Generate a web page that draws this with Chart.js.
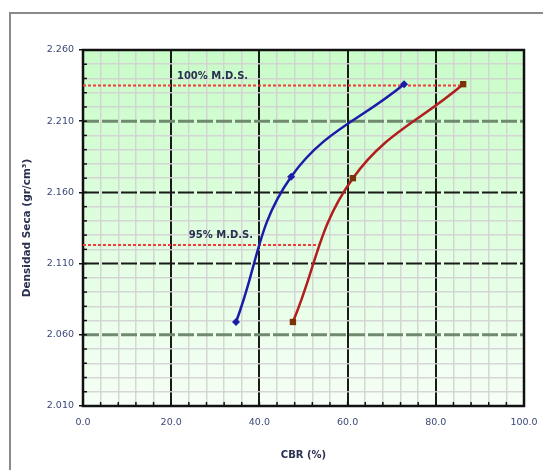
<!DOCTYPE html>
<html><head><meta charset="utf-8">
<script src="https://cdn.jsdelivr.net/npm/chart.js@4"></script>
<style>html,body{margin:0;padding:0;background:#fff}#wrap{width:543px;height:470px;position:relative}</style>
</head><body><div id="wrap"><canvas id="c" width="543" height="470"></canvas></div>
<script>
// ---- data ----
const cbrBlue = [34.7, 47.2, 72.8];
const densBlue = [2.069, 2.171, 2.236];
const cbrRed = [47.6, 61.2, 86.2];
const densRed = [2.069, 2.170, 2.236];
const mdsLevels = [2.235, 2.123];
const mdsLineEnds = [86.2, 53.5];
const mdsLabels = ['100% M.D.S.', '95% M.D.S.'];
const mdsLabelX = [21.3, 24.0];
const mdsLabelY = [2.2395, 2.128];
const yLabelTicks = [2.010, 2.060, 2.110, 2.160, 2.210, 2.260];
const yGreyMajor = [2.210, 2.060];
const yBlackMajor = [2.160, 2.110];
const xLabelTicks = [0, 20, 40, 60, 80, 100];

const isMajorY = v => yLabelTicks.some(t => Math.abs(t - v) < 1e-6);
const isMajorX = v => xLabelTicks.some(t => Math.abs(t - v) < 1e-6);

const pts = (xs, ys) => xs.map((x, i) => ({x, y: ys[i]}));
const FONT = '"DejaVu Sans", "Liberation Sans", sans-serif';

const decor = {
  id: 'decor',
  beforeDraw(chart) {
    const {ctx, chartArea: a} = chart;
    ctx.save();
    ctx.fillStyle = '#fff';
    ctx.fillRect(0, 0, chart.width, chart.height);
    ctx.strokeStyle = '#8a8a8a';
    ctx.lineWidth = 2;
    ctx.beginPath();
    ctx.moveTo(10, chart.height);
    ctx.lineTo(10, 13);
    ctx.lineTo(chart.width + 2, 13);
    ctx.stroke();
    const g = ctx.createLinearGradient(0, a.top, 0, a.bottom);
    g.addColorStop(0, '#c8fcc8');
    g.addColorStop(1, '#f6fff6');
    ctx.fillStyle = g;
    ctx.fillRect(a.left, a.top, a.right - a.left, a.bottom - a.top);
    ctx.restore();
  },
  beforeDatasetsDraw(chart) {
    const {ctx, chartArea: a, scales: {x, y}} = chart;
    ctx.save();
    ctx.setLineDash([16, 3]);
    yGreyMajor.forEach(v => {
      const py = y.getPixelForValue(v);
      ctx.strokeStyle = '#6f8a6f';
      ctx.lineWidth = 3;
      ctx.beginPath(); ctx.moveTo(a.left, py); ctx.lineTo(a.right, py); ctx.stroke();
    });
    yBlackMajor.forEach(v => {
      const py = y.getPixelForValue(v);
      ctx.strokeStyle = '#1a1a1a';
      ctx.lineWidth = 2;
      ctx.beginPath(); ctx.moveTo(a.left, py); ctx.lineTo(a.right, py); ctx.stroke();
    });
    ctx.setLineDash([]);
    ctx.strokeStyle = '#111';
    ctx.lineWidth = 1.5;
    y.ticks.forEach(t => {
      const py = y.getPixelForValue(t.value);
      ctx.beginPath(); ctx.moveTo(a.left, py); ctx.lineTo(a.left + 4, py); ctx.stroke();
    });
    x.ticks.forEach(t => {
      const px = x.getPixelForValue(t.value);
      ctx.beginPath(); ctx.moveTo(px, a.bottom); ctx.lineTo(px, a.bottom - 4); ctx.stroke();
    });
    ctx.strokeStyle = '#111';
    ctx.lineWidth = 2.5;
    ctx.strokeRect(a.left, a.top, a.right - a.left, a.bottom - a.top);
    ctx.restore();
  },
  afterDatasetsDraw(chart) {
    const {ctx, scales: {x, y}} = chart;
    ctx.save();
    ctx.font = 'bold 10px ' + FONT;
    ctx.fillStyle = '#2a3050';
    ctx.textBaseline = 'alphabetic';
    mdsLabels.forEach((s, i) => {
      ctx.fillText(s, x.getPixelForValue(mdsLabelX[i]), y.getPixelForValue(mdsLabelY[i]));
    });
    ctx.restore();
  }
};

new Chart(document.getElementById('c'), {
  type: 'scatter',
  data: {
    datasets: [
      {
        data: pts(cbrBlue, densBlue), showLine: true, tension: 0.4,
        borderColor: '#1c1ca8', backgroundColor: '#1c1ca8', borderWidth: 2.5,
        pointStyle: 'rectRot', pointRadius: 4, pointBorderWidth: 0
      },
      {
        data: pts(cbrRed, densRed), showLine: true, tension: 0.4,
        borderColor: '#b01e1e', backgroundColor: '#7a3208', borderWidth: 2.5,
        pointStyle: 'rect', pointRadius: 4.5, pointBorderWidth: 0
      },
      {
        data: [{x: 0, y: mdsLevels[0]}, {x: mdsLineEnds[0], y: mdsLevels[0]}],
        showLine: true, borderColor: '#f03c3c', borderWidth: 2, borderDash: [3, 2],
        pointRadius: 0, order: 5
      },
      {
        data: [{x: 0, y: mdsLevels[1]}, {x: mdsLineEnds[1], y: mdsLevels[1]}],
        showLine: true, borderColor: '#f03c3c', borderWidth: 2, borderDash: [3, 2],
        pointRadius: 0, order: 5
      }
    ]
  },
  options: {
    responsive: false,
    devicePixelRatio: 1,
    animation: false,
    layout: {padding: {left: 10, top: 50, right: 19, bottom: 0}},
    plugins: {legend: {display: false}, tooltip: {enabled: false}},
    scales: {
      x: {
        type: 'linear', min: 0, max: 100,
        afterFit: s => { s.height = 64; s.paddingRight = 0; s.paddingLeft = 0; },
        border: {display: false},
        grid: {
          color: c => isMajorX(c.tick.value) ? '#1a1a1a' : 'rgba(210,210,210,0.9)',
          lineWidth: c => isMajorX(c.tick.value) ? 2 : 1.5,
          tickLength: 4,
          tickColor: 'rgba(0,0,0,0)'
        },
        ticks: {
          stepSize: 4, autoSkip: false, maxRotation: 0, padding: 7,
          color: '#3c4878',
          font: {family: FONT, size: 9.5},
          callback: v => isMajorX(v) ? v.toFixed(1) : ''
        },
        title: {
          display: true, text: 'CBR (%)', color: '#2a3050',
          font: {family: FONT, size: 10, weight: 'bold'},
          padding: {top: 0, bottom: 9}
        }
      },
      y: {
        type: 'linear', min: 2.010, max: 2.260,
        afterFit: s => { s.width = 73; s.paddingTop = 0; s.paddingBottom = 0; },
        border: {display: false},
        grid: {
          color: c => isMajorY(c.tick.value) ? 'rgba(0,0,0,0)' : 'rgba(210,210,210,0.9)',
          lineWidth: 1.5,
          tickLength: 4,
          tickColor: c => isMajorY(c.tick.value) ? '#111' : 'rgba(0,0,0,0)'
        },
        ticks: {
          stepSize: 0.01, autoSkip: false, padding: 5,
          color: '#3c4878',
          font: {family: FONT, size: 9.5},
          callback: v => isMajorY(v) ? v.toFixed(3) : ''
        },
        title: {
          display: true, text: 'Densidad Seca (gr/cm³)', color: '#2a3050',
          font: {family: FONT, size: 10.5, weight: 'bold'},
          padding: {top: 11, bottom: 0}
        }
      }
    }
  },
  plugins: [decor]
});
</script>
</body></html>
